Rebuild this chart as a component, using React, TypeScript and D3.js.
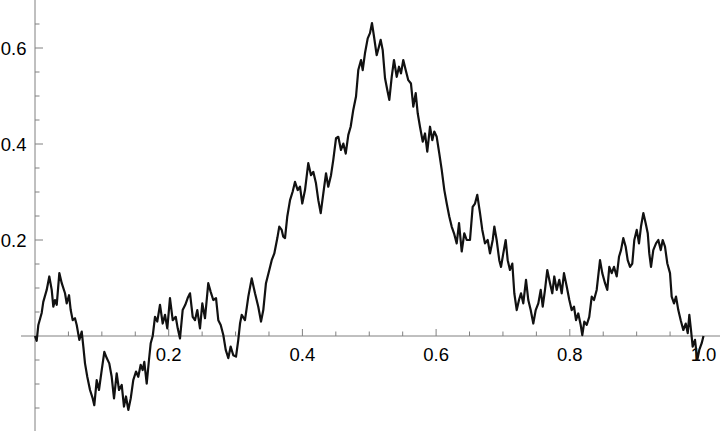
import React, { useEffect, useRef } from "react";
import * as d3 from "d3";

// path samples (t, value)
const tValues = [
  0, 0.0025, 0.005, 0.01, 0.0124, 0.0175, 0.0214, 0.025, 0.0274, 0.0299, 0.0325, 0.0364, 0.04, 0.0449, 0.0474,
  0.0509, 0.0534, 0.0564, 0.0598, 0.0624, 0.0663, 0.0699, 0.0723, 0.0748, 0.0782, 0.0823, 0.0863, 0.0887, 0.0923,
  0.0957, 0.0998, 0.1037, 0.1073, 0.1111, 0.1147, 0.1182, 0.1222, 0.1257, 0.1297, 0.1331, 0.1361, 0.1396, 0.1432,
  0.147, 0.1511, 0.1545, 0.1581, 0.1611, 0.1635, 0.1671, 0.1705, 0.1731, 0.1761, 0.1795, 0.1829, 0.187, 0.191,
  0.1945, 0.1979, 0.2019, 0.206, 0.2105, 0.2135, 0.2169, 0.2209, 0.2248, 0.2284, 0.2319, 0.2359, 0.2393, 0.2428,
  0.2468, 0.2503, 0.2543, 0.2592, 0.2628, 0.2667, 0.2708, 0.2742, 0.2778, 0.2817, 0.2853, 0.2892, 0.2927, 0.2966,
  0.3007, 0.3041, 0.3067, 0.3092, 0.3141, 0.3191, 0.3242, 0.3291, 0.334, 0.3381, 0.3415, 0.3455, 0.3505, 0.3541,
  0.358, 0.3625, 0.3654, 0.369, 0.3714, 0.374, 0.3774, 0.3815, 0.3855, 0.3889, 0.393, 0.3964, 0.3998, 0.4039,
  0.4088, 0.4129, 0.4163, 0.4203, 0.4238, 0.4274, 0.4313, 0.4353, 0.4387, 0.4428, 0.4462, 0.4503, 0.4537, 0.4577,
  0.4612, 0.4648, 0.4687, 0.4722, 0.4761, 0.4802, 0.4836, 0.4877, 0.4902, 0.4936, 0.4977, 0.5011, 0.5041, 0.5071,
  0.5111, 0.5146, 0.5171, 0.5201, 0.5236, 0.527, 0.53, 0.5336, 0.537, 0.5411, 0.5445, 0.5475, 0.5509, 0.5545,
  0.5584, 0.5624, 0.5659, 0.5695, 0.5725, 0.5759, 0.58, 0.5834, 0.5868, 0.5909, 0.5943, 0.5973, 0.6009, 0.6048,
  0.6084, 0.6123, 0.6159, 0.6197, 0.6233, 0.6268, 0.6308, 0.6343, 0.6383, 0.6422, 0.6458, 0.6507, 0.6547, 0.6582,
  0.6616, 0.6657, 0.6691, 0.6731, 0.6772, 0.6806, 0.6847, 0.6871, 0.6906, 0.6945, 0.6971, 0.7005, 0.7041, 0.7071,
  0.7105, 0.714, 0.717, 0.7206, 0.724, 0.727, 0.7304, 0.7345, 0.7379, 0.7415, 0.7454, 0.749, 0.7529, 0.7565,
  0.7595, 0.7629, 0.7663, 0.7704, 0.7738, 0.7768, 0.7804, 0.7843, 0.7879, 0.7913, 0.7954, 0.7993, 0.8028, 0.8063,
  0.8093, 0.8127, 0.8163, 0.8187, 0.8217, 0.8253, 0.8291, 0.8328, 0.8362, 0.8402, 0.8452, 0.8486, 0.8527, 0.8561,
  0.8591, 0.8627, 0.8661, 0.8702, 0.8736, 0.8766, 0.88, 0.8836, 0.8866, 0.8901, 0.8935, 0.8965, 0.9001, 0.9035,
  0.9065, 0.91, 0.9135, 0.9166, 0.9189, 0.9215, 0.9249, 0.929, 0.9324, 0.936, 0.939, 0.9424, 0.9459, 0.9499,
  0.9524, 0.9559, 0.9589, 0.9623, 0.9659, 0.9698, 0.9734, 0.9764, 0.9788, 0.9813, 0.9838, 0.9873, 0.9907, 0.9937,
  0.9973, 1.0,
];

const pathValues = [
  0, -0.01, 0.023, 0.048, 0.071, 0.096, 0.124, 0.096, 0.061, 0.075, 0.065, 0.131, 0.11, 0.089, 0.068,
  0.085, 0.054, 0.033, 0.037, 0.023, -0.008, 0.009, -0.022, -0.057, -0.085, -0.1125, -0.13, -0.144, -0.092,
  -0.1125, -0.071, -0.033, -0.046, -0.057, -0.085, -0.13, -0.078, -0.1125, -0.102, -0.147, -0.126, -0.154, -0.13,
  -0.092, -0.074, -0.085, -0.06, -0.071, -0.054, -0.099, -0.05, -0.015, 0, 0.04, 0.03, 0.065, 0.026,
  0.044, 0.016, 0.079, 0.033, 0.04, 0.016, -0.005, 0.054, 0.065, 0.079, 0.089, 0.04, 0.033, 0.054,
  0.016, 0.068, 0.037, 0.11, 0.092, 0.075, 0.079, 0.033, 0.023, 0.002, -0.029, -0.046, -0.022, -0.04,
  -0.043, -0.008, 0.026, 0.044, 0.033, 0.082, 0.12, 0.089, 0.061, 0.03, 0.054, 0.11, 0.1375, 0.158,
  0.172, 0.204, 0.228, 0.221, 0.207, 0.204, 0.249, 0.283, 0.301, 0.321, 0.304, 0.311, 0.276, 0.304,
  0.36, 0.335, 0.342, 0.318, 0.283, 0.256, 0.297, 0.339, 0.311, 0.335, 0.367, 0.412, 0.415, 0.3875,
  0.401, 0.38, 0.419, 0.436, 0.471, 0.499, 0.554, 0.575, 0.554, 0.589, 0.62, 0.631, 0.652, 0.624,
  0.585, 0.603, 0.617, 0.596, 0.537, 0.5125, 0.492, 0.54, 0.575, 0.54, 0.561, 0.547, 0.575, 0.554,
  0.533, 0.526, 0.478, 0.506, 0.464, 0.436, 0.405, 0.422, 0.384, 0.436, 0.408, 0.426, 0.415, 0.38,
  0.346, 0.304, 0.276, 0.249, 0.228, 0.214, 0.193, 0.235, 0.176, 0.214, 0.2, 0.2, 0.269, 0.276,
  0.294, 0.256, 0.221, 0.193, 0.2, 0.172, 0.2, 0.228, 0.2, 0.158, 0.144, 0.172, 0.2, 0.158,
  0.1375, 0.151, 0.089, 0.054, 0.075, 0.089, 0.068, 0.117, 0.075, 0.054, 0.026, 0.054, 0.068, 0.096,
  0.061, 0.096, 0.1375, 0.11, 0.089, 0.124, 0.096, 0.117, 0.089, 0.131, 0.103, 0.075, 0.054, 0.061,
  0.033, 0.047, 0.023, 0.002, 0.03, 0.023, 0.04, 0.082, 0.075, 0.096, 0.158, 0.131, 0.11, 0.096,
  0.144, 0.131, 0.144, 0.124, 0.165, 0.179, 0.204, 0.186, 0.158, 0.144, 0.151, 0.2, 0.221, 0.193,
  0.228, 0.256, 0.235, 0.214, 0.172, 0.144, 0.179, 0.193, 0.2, 0.179, 0.2, 0.186, 0.151, 0.131,
  0.082, 0.068, 0.082, 0.054, 0.033, 0.0125, 0.026, 0.006, 0.044, 0.0125, -0.022, -0.008, -0.05, -0.029,
  -0.015, 0,
];

const xTickLabels = ["0.2", "0.4", "0.6", "0.8", "1.0"];
const yTickLabels = ["0.2", "0.4", "0.6"];
const xMinorTicks = d3.range(1, 20).map(i => i * 0.05);
const yMinorTicks = d3.range(-3, 14).map(i => i * 0.05);

const WIDTH = 720;
const HEIGHT = 434;

export default function App() {
  const svgRef = useRef<SVGSVGElement | null>(null);

  useEffect(() => {
    const svg = d3.select(svgRef.current).attr("width", WIDTH).attr("height", HEIGHT);
    svg.selectAll("*").remove();

    const x = d3.scaleLinear().domain([0, 1]).range([35, 703.5]);
    const y = d3.scaleLinear().domain([0, 0.6]).range([336, 48]);
    const axisColor = "#808080";
    const font = "'Liberation Sans', Arial, sans-serif";

    // axes lines
    svg.append("line").attr("x1", 21).attr("x2", WIDTH).attr("y1", y(0)).attr("y2", y(0))
      .attr("stroke", axisColor).attr("stroke-width", 1);
    svg.append("line").attr("x1", x(0)).attr("x2", x(0)).attr("y1", 0).attr("y2", 431)
      .attr("stroke", axisColor).attr("stroke-width", 1);

    // x ticks
    xMinorTicks.forEach(t => {
      const major = Math.abs(t * 5 - Math.round(t * 5)) < 1e-6;
      svg.append("line").attr("x1", x(t)).attr("x2", x(t))
        .attr("y1", y(0)).attr("y2", y(0) - (major ? 7 : 4.5))
        .attr("stroke", axisColor);
    });
    // y ticks
    yMinorTicks.forEach(v => {
      if (Math.abs(v) < 1e-6) return;
      const major = Math.abs(v * 5 - Math.round(v * 5)) < 1e-6;
      svg.append("line").attr("x1", x(0)).attr("x2", x(0) + (major ? 8 : 4.5))
        .attr("y1", y(v)).attr("y2", y(v))
        .attr("stroke", axisColor);
    });

    // tick labels
    xTickLabels.forEach(lbl => {
      svg.append("text").attr("x", x(+lbl)).attr("y", 361)
        .attr("text-anchor", "middle").attr("font-family", font).attr("font-size", 18.5)
        .attr("fill", "#000").text(lbl);
    });
    yTickLabels.forEach(lbl => {
      svg.append("text").attr("x", 26.5).attr("y", y(+lbl) + 7)
        .attr("text-anchor", "end").attr("font-family", font).attr("font-size", 18.5)
        .attr("fill", "#000").text(lbl);
    });

    // the path
    const pts = tValues.map((t, i) => [t, pathValues[i]] as [number, number]);
    const line = d3.line<[number, number]>().x(d => x(d[0])).y(d => y(d[1]));
    svg.append("path").datum(pts).attr("d", line)
      .attr("fill", "none").attr("stroke", "#111").attr("stroke-width", 2.2)
      .attr("stroke-linejoin", "round");
  }, []);

  return (
    <svg ref={svgRef} style={{ position: "absolute", left: 0, top: 0, background: "#fff" }}></svg>
  );
}
